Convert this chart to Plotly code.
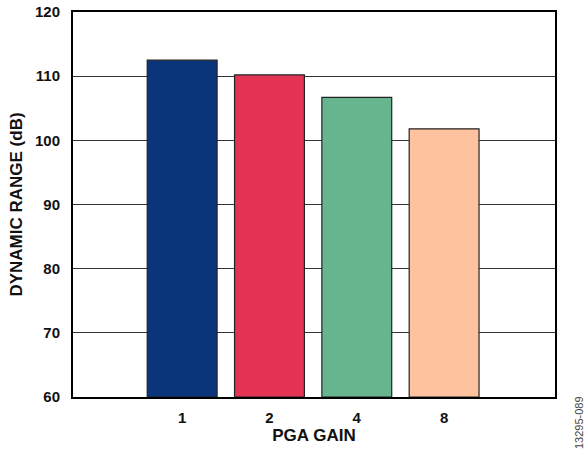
import plotly.graph_objects as go

categories = ["1", "2", "4", "8"]
dynamic_range = [112.5, 110.2, 106.7, 101.8]
bar_colors = ["#0B357A", "#E33456", "#66B58F", "#FEC39E"]
y_ticks = [60, 70, 80, 90, 100, 110, 120]

xpos = list(range(len(categories)))

fig = go.Figure()
fig.add_trace(go.Bar(
    x=xpos, y=[v - 60 for v in dynamic_range], base=60,
    width=0.8,
    marker=dict(color=bar_colors, line=dict(color="#222222", width=1.2)),
    hoverinfo="skip",
))

FONT = "Liberation Sans, Arial, sans-serif"
font = dict(family=FONT, size=15, color="#111111")

fig.update_layout(
    width=587, height=452,
    margin=dict(l=73, r=32, t=12, b=55, autoexpand=False),
    plot_bgcolor="white", paper_bgcolor="white",
    showlegend=False,
    font=font,
)
fig.update_xaxes(
    range=[-1.25, 4.27],
    tickvals=xpos, ticktext=["<b>%s</b>" % c for c in categories],
    showgrid=False, zeroline=False,
    showline=True, linecolor="black", linewidth=2, mirror=True,
    ticks="", ticklabelstandoff=6,
    automargin=False,
    title=dict(text="<b>PGA GAIN</b>", standoff=4, font=dict(size=17)),
    tickfont=dict(size=15),
)
fig.update_yaxes(
    range=[60, 120],
    tickvals=y_ticks, ticktext=["<b>%d</b>" % t for t in y_ticks],
    showgrid=True, gridcolor="#333333", gridwidth=1,
    zeroline=False,
    showline=True, linecolor="black", linewidth=2, mirror=True,
    ticks="", ticklabelstandoff=8, ticklabeloverflow="allow",
    automargin=False,
    title=dict(text="<b>DYNAMIC RANGE (dB)</b>", standoff=8, font=dict(size=17)),
    tickfont=dict(size=15),
)
fig.add_annotation(
    text="13295-089", xref="paper", yref="paper",
    x=1.0, xanchor="center", xshift=24, y=0.0, yanchor="middle", yshift=-26,
    textangle=-90, showarrow=False,
    font=dict(family=FONT, size=11, color="#444444"),
)

# remove the default 8px page margin so the 587x452 figure fills the window
fig.write_html(
    "out.html",
    config={"displayModeBar": False},
    post_script="document.body.style.margin='0';document.body.style.overflow='hidden';",
)
